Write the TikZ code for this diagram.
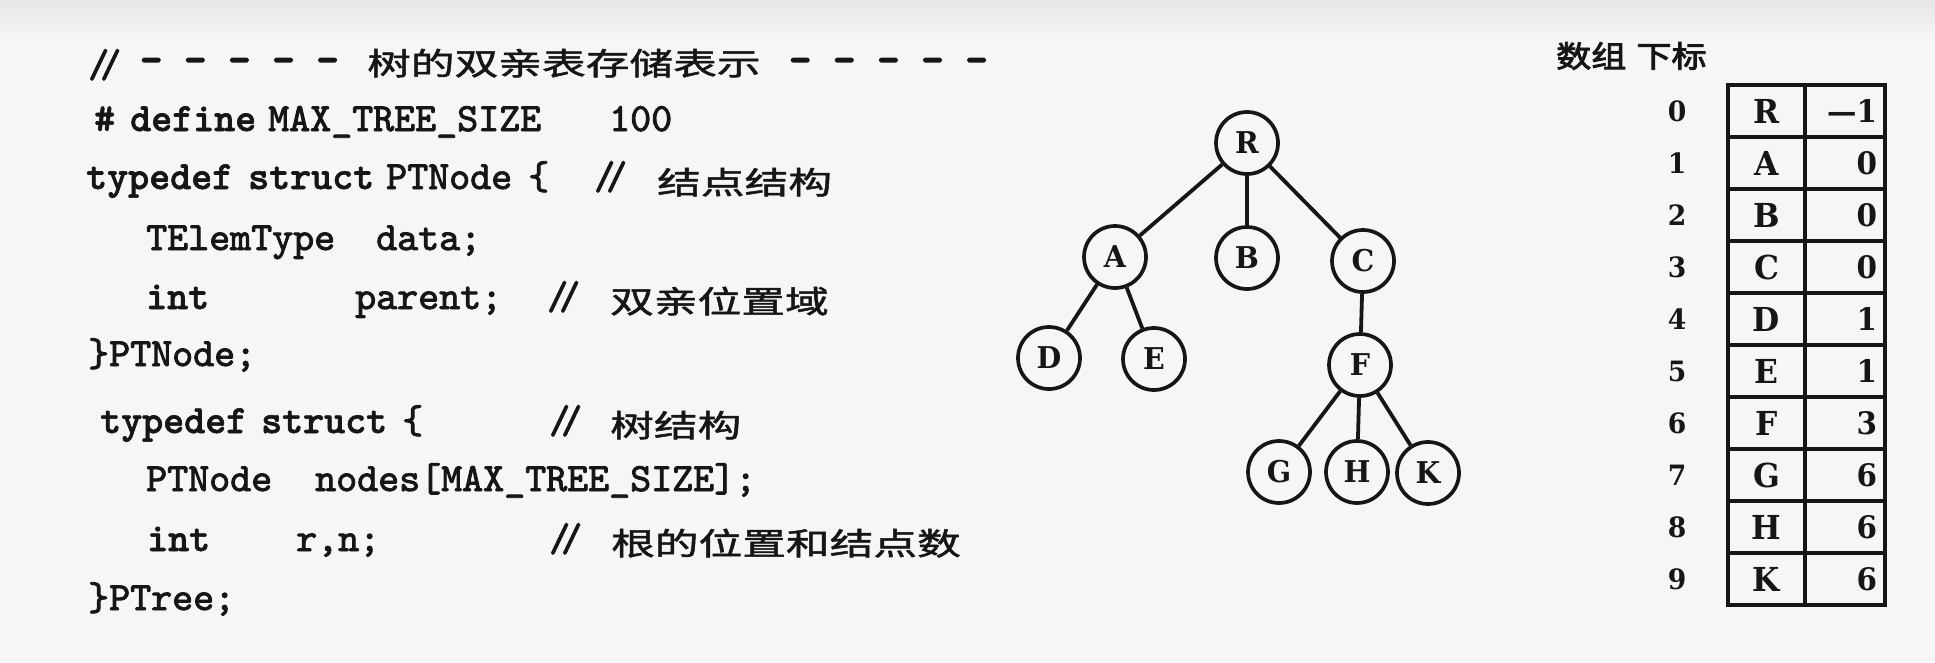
\documentclass[tikz,border=0pt]{standalone}
\usepackage{fontspec}
% code: slab-serif typewriter, keywords in the bold face
\newfontfamily\codefont[FakeBold=2.2]{lmmono10-regular.otf}
\newfontfamily\kwfont[FakeBold=1.6]{lmmonolt10-bold.otf}
\newfontfamily\rulefont[FakeBold=3.5]{lmmonolt10-bold.otf}
\newfontfamily\cjkfont[FakeStretch=1.41,FakeBold=1.6]{Noto Sans CJK SC}
\newfontfamily\headfont[FakeStretch=1.17,FakeBold=3]{Noto Sans CJK SC}
\newfontfamily\letterfont[FakeStretch=0.95]{DejaVu Serif}
\definecolor{ink}{RGB}{22,22,22}
\definecolor{paper}{RGB}{246,246,246}
\definecolor{paperdark}{RGB}{230,230,230}

\begin{document}
\begin{tikzpicture}[x=1pt,y=-1pt,
  code/.style={anchor=base west,inner sep=0pt,text=ink,
    font=\codefont\fontsize{40}{42}\selectfont},
  kw/.style={code,font=\kwfont\fontsize{40}{42}\selectfont},
  rule/.style={code,font=\rulefont\fontsize{42}{44}\selectfont},
  cmt/.style={anchor=base west,inner sep=0pt,text=ink,
    font=\cjkfont\fontsize{31}{33}\selectfont},
  vert/.style={circle,draw=ink,line width=3.7pt,minimum size=62pt,inner sep=0pt,
    text=ink,font=\letterfont\bfseries\fontsize{30}{32}\selectfont},
  edge/.style={draw=ink,line width=3.8pt},
  cellL/.style={draw=ink,line width=3.8pt,minimum width=77pt,minimum height=52pt,
    inner sep=0pt,text=ink,font=\letterfont\bfseries\fontsize{33}{35}\selectfont},
  cellR/.style={draw=ink,line width=3.8pt,minimum height=52pt,text width=64pt,
    inner xsep=8pt,inner ysep=0pt,align=right,text=ink,
    font=\letterfont\bfseries\fontsize{31}{33}\selectfont},
  idx/.style={inner sep=0pt,text=ink,font=\letterfont\bfseries\fontsize{28}{30}\selectfont},
  head/.style={anchor=west,inner sep=0pt,text=ink,
    font=\headfont\fontsize{30}{32}\selectfont}]

% page
\useasboundingbox (0,0) rectangle (1935,662);
\fill[paper] (0,0) rectangle (1935,662);
\shade[top color=paperdark,bottom color=paper] (0,0) rectangle (1935,40);

% ---------------- code listing ----------------
\node[code] (l1a) at (88,77) {/\kern-9pt/};
\node[rule] (l1b) at (140,73) {– – – – –};
\node[cmt]  (l1c) at (367,75) {树的双亲表存储表示};
\node[rule] (l1d) at (789,73) {– – – – –};

\node[kw]   (l2a) at (94,131) {\#};
\node[kw]   (l2b) at (130,131) {define};
\node[code] (l2c) at (268,131) {MAX\_TREE\_SIZE};
\node[code] (l2d) at (609,131) {100};

\node[kw]   (l3a) at (86,189) {typedef};
\node[kw]   (l3b) at (248,189) {struct};
\node[code] (l3c) at (386,189) {PTNode};
\node[code] (l3d) at (528,189) {\{};
\node[code] (l3e) at (594,189) {/\kern-9pt/};
\node[cmt]  (l3f) at (657,194) {结点结构};

\node[code] (l4a) at (146,250) {TElemType};
\node[code] (l4b) at (376,250) {data;};

\node[kw]   (l5a) at (146,309) {int};
\node[code] (l5b) at (355,309) {parent;};
\node[code] (l5c) at (547,309) {/\kern-9pt/};
\node[cmt]  (l5d) at (610,313) {双亲位置域};

\node[code] (l6a) at (88,366) {\}PTNode;};

\node[kw]   (l7a) at (100,433) {typedef};
\node[kw]   (l7b) at (261,433) {struct};
\node[code] (l7c) at (402,433) {\{};
\node[code] (l7d) at (549,433) {/\kern-9pt/};
\node[cmt]  (l7e) at (610,437) {树结构};

\node[code] (l8a) at (146,491) {PTNode};
\node[code] (l8b) at (315,491) {nodes[MAX\_TREE\_SIZE];};

\node[kw]   (l9a) at (147,551) {int};
\node[code] (l9b) at (296,551) {r,n;};
\node[code] (l9c) at (549,551) {/\kern-9pt/};
\node[cmt]  (l9d) at (611,555) {根的位置和结点数};

\node[code] (l10a) at (88,610) {\}PTree;};

% ---------------- tree ----------------
\node[vert] (R) at (1247,143) {R};
\node[vert] (A) at (1115,257) {A};
\node[vert] (B) at (1247,258) {B};
\node[vert] (C) at (1363,261) {C};
\node[vert] (D) at (1049,358) {D};
\node[vert] (E) at (1154,359) {E};
\node[vert] (F) at (1360,365) {F};
\node[vert] (G) at (1279,472) {G};
\node[vert] (H) at (1357,472) {H};
\node[vert] (K) at (1428,473) {K};

\draw[edge] (R) -- (A);
\draw[edge] (R) -- (B);
\draw[edge] (R) -- (C);
\draw[edge] (A) -- (D);
\draw[edge] (A) -- (E);
\draw[edge] (C) -- (F);
\draw[edge] (F) -- (G);
\draw[edge] (F) -- (H);
\draw[edge] (F) -- (K);

% ---------------- parent array ----------------
\node[head] (hd) at (1556,56) {数组\hspace{10pt}下标};

\foreach \i/\v/\p in {0/R/—1,1/A/0,2/B/0,3/C/0,4/D/1,5/E/1,6/F/3,7/G/6,8/H/6,9/K/6}{
  \node[idx]   (n\i) at (1677,{111+52*\i}) {\i};
  \node[cellL] (d\i) at (1766.5,{111+52*\i}) {\v};
  \node[cellR] (p\i) at (1845,{111+52*\i}) {\p};
}
\end{tikzpicture}
\end{document}
